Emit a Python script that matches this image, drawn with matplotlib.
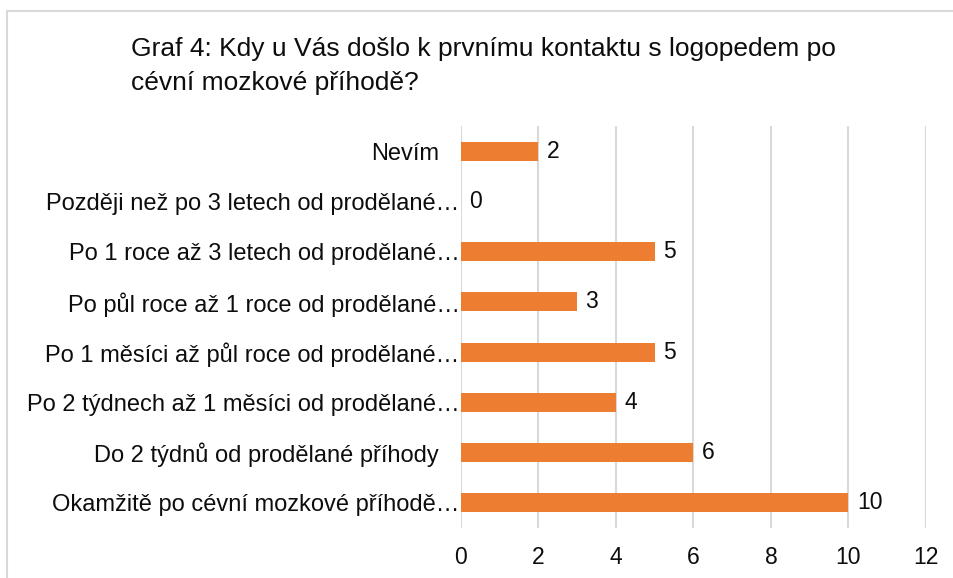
import matplotlib.pyplot as plt
from matplotlib.patches import Rectangle
from matplotlib.transforms import ScaledTranslation

plt.rcParams["font.family"] = ["Liberation Sans", "DejaVu Sans"]

categories = [
    "Okamžitě po cévní mozkové příhodě…",
    "Do 2 týdnů od prodělané příhody",
    "Po 2 týdnech až 1 měsíci od prodělané…",
    "Po 1 měsíci až půl roce od prodělané…",
    "Po půl roce až 1 roce od prodělané…",
    "Po 1 roce až 3 letech od prodělané…",
    "Později než po 3 letech od prodělané…",
    "Nevím",
]
values = [10, 6, 4, 5, 3, 5, 0, 2]
title = "Graf 4: Kdy u Vás došlo k prvnímu kontaktu s logopedem po\ncévní mozkové příhodě?"

BAR = "#ED7D31"
GRID = "#D9D9D9"
TXT = "#0D0D0D"

fig = plt.figure(figsize=(9.54, 5.78), dpi=100)
ax = fig.add_axes([461 / 954, 1 - 528 / 578, (926 - 461) / 954, (528 - 126) / 578])

# outer chart frame (cut by the image edge on right/bottom)
fig.patches.append(Rectangle((7 / 954, -0.1), 1.2, 1.1 - 11 / 578,
                             transform=fig.transFigure, fill=False,
                             edgecolor=GRID, linewidth=1.5))

y = range(len(categories))
ax.barh(y, values, height=0.38, color=BAR, zorder=3)
for yi, v in zip(y, values):
    ax.annotate(str(v), (v, yi), xytext=(6, 0), textcoords="offset points",
                va="center", ha="left", fontsize=16.5, color=TXT)

ax.set_xlim(0, 12)
ax.set_ylim(-0.5, len(categories) - 0.5)
ax.set_xticks(range(0, 13, 2))
ax.set_yticks(list(y))
ax.set_yticklabels(categories, fontsize=17, color=TXT)
ax.tick_params(axis="y", length=0, pad=16)
ax.tick_params(axis="x", length=0, pad=13, labelsize=16.5, labelcolor=TXT)
ax.grid(axis="x", color=GRID, linewidth=1.5, zorder=0)
for s in ax.spines.values():
    s.set_visible(False)

# truncated labels sit closer to the axis
for lab in ax.get_yticklabels():
    if lab.get_text().endswith("…"):
        lab.set_transform(lab.get_transform() + ScaledTranslation(15 / 72, 0, fig.dpi_scale_trans))

fig.text(131 / 954, 1 - 37 / 578, title, fontsize=19, color=TXT,
         ha="left", va="top", linespacing=1.55)

fig.savefig("out.png", dpi=100)
